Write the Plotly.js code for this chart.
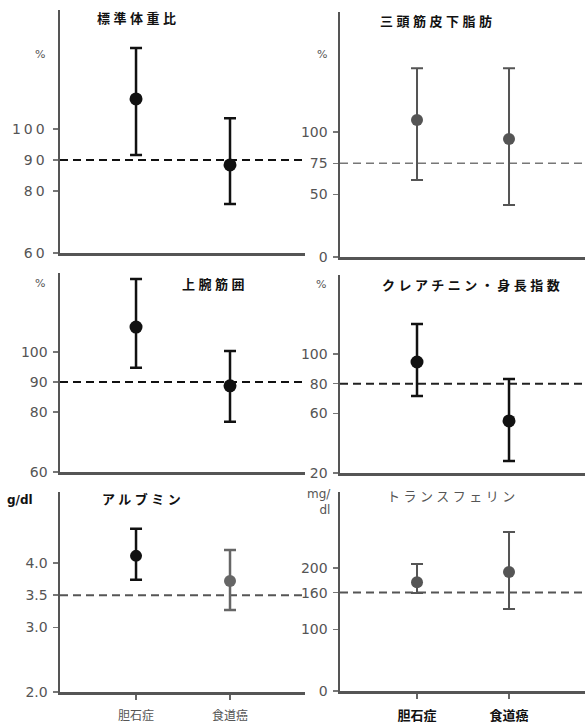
<!DOCTYPE html>
<html><head><meta charset="utf-8">
<script src="https://cdn.plot.ly/plotly-3.0.1.min.js"></script>
<style>
body{margin:0;background:#fff}
#chart{width:585px;height:723px}
.annotation-text[style*="CJK JP"]{letter-spacing:3.5px}
.ytick text{letter-spacing:3px}
</style>
</head><body><div id="chart"></div>
<script>
// ---- data ----
const groups = ['胆石症', '食道癌'];
const panelTitles = ['標準体重比', '三頭筋皮下脂肪', '上腕筋囲', 'クレアチニン・身長指数', 'アルブミン', 'トランスフェリン'];
const panelUnits = ['%', '%', '%', '%', 'g/dl', 'mg/<br>dl'];

const ibwMean  = [109.7, 88.4];
const ibwUpper = [126.1, 103.5];
const ibwLower = [91.6, 75.8];

const tsfMean  = [109.6, 94.4];
const tsfUpper = [151, 151];
const tsfLower = [61.6, 41.6];

const amcMean  = [108.3, 88.7];
const amcUpper = [124.3, 100.3];
const amcLower = [94.7, 76.7];

const chiMean  = [94.6, 55.0];
const chiUpper = [120.2, 83.2];
const chiLower = [71.8, 28.1];

const albMean  = [4.11, 3.72];
const albUpper = [4.53, 4.20];
const albLower = [3.74, 3.27];

const tfMean  = [177, 193.5];
const tfUpper = [206.5, 258.5];
const tfLower = [159.3, 133.3];

const refValues = [90, 75, 90, 80, 3.5, 160];

const tickVals1 = [60, 80, 90, 100];
const tickVals2 = [0, 50, 75, 100];
const tickVals3 = [60, 80, 90, 100];
const tickVals4 = [20, 60, 80, 100];
const tickVals5 = [2.0, 3.0, 3.5, 4.0];
const tickText5 = ['2.0', '3.0', '3.5', '4.0'];
const tickVals6 = [0, 100, 160, 200];

// ---- styling / layout ----
const W = 585, H = 723;
const px = v => v / W, py = v => 1 - v / H;

const series = [
  [ibwMean, ibwUpper, ibwLower],
  [tsfMean, tsfUpper, tsfLower],
  [amcMean, amcUpper, amcLower],
  [chiMean, chiUpper, chiLower],
  [albMean, albUpper, albLower],
  [tfMean, tfUpper, tfLower]
];
const tickVals = [tickVals1, tickVals2, tickVals3, tickVals4, tickVals5, tickVals6];
const tickTexts = [null, null, null, null, tickText5, null];

const style = [
  {col: ['#111', '#111'], ebw: 2.5, ms: 13, ref: '#111', yr: [60, 138.4], yd: [253, 10], left: true,  title: [95, 17], unit: [40, 55]},
  {col: ['#555', '#555'], ebw: 2,   ms: 12, ref: '#777', yr: [0, 196],    yd: [257, 12], left: false, title: [378, 20], unit: [322, 55]},
  {col: ['#111', '#111'], ebw: 2.5, ms: 13, ref: '#111', yr: [60, 126.3], yd: [472, 273], left: true, title: [180, 284], unit: [40, 284]},
  {col: ['#111', '#111'], ebw: 2.5, ms: 13, ref: '#222', yr: [20, 153.1], yd: [473, 275], left: false, title: [380, 285], unit: [321, 285]},
  {col: ['#111', '#666'], ebw: 2.5, ms: 12, ref: '#555', yr: [2, 5.10],   yd: [692, 492], left: true, title: [100, 498], unit: [5, 500]},
  {col: ['#555', '#555'], ebw: 2,   ms: 12, ref: '#555', yr: [0, 323.6],  yd: [691, 492], left: false, title: [385, 495], unit: [333, 502]}
];

const traces = [];
const shapes = [];
const annotations = [];
const layout = {
  width: W, height: H,
  margin: {l: 0, r: 0, t: 0, b: 0},
  paper_bgcolor: '#fff', plot_bgcolor: '#fff',
  showlegend: false,
  font: {family: 'DejaVu Sans, sans-serif', color: '#555'}
};

series.forEach((s, i) => {
  const st = style[i];
  const n = i + 1;
  const xa = n === 1 ? 'x' : 'x' + n;
  const ya = n === 1 ? 'y' : 'y' + n;
  groups.forEach((g, j) => {
    traces.push({
      type: 'scatter', mode: 'markers',
      x: [g], y: [s[0][j]],
      xaxis: xa, yaxis: ya,
      marker: {size: st.ms, color: st.col[j]},
      error_y: {
        type: 'data', symmetric: false,
        array: [s[1][j] - s[0][j]],
        arrayminus: [s[0][j] - s[2][j]],
        color: st.col[j], thickness: st.ebw, width: 6
      },
      hoverinfo: 'skip'
    });
  });
  const bottomRow = i >= 4;
  const xdom = st.left ? [px(60), px(305)] : [px(340), 1];
  const xrange = st.left ? [-0.809, 1.798] : [-0.837, 1.826];
  layout[n === 1 ? 'xaxis' : 'xaxis' + n] = {
    domain: xdom, anchor: ya, type: 'category', categoryarray: groups,
    range: xrange, showline: true, linecolor: '#555', linewidth: 2.5,
    showgrid: false, zeroline: false,
    ticks: bottomRow ? 'outside' : '', ticklen: 5, tickwidth: 1.5, tickcolor: '#666',
    showticklabels: bottomRow,
    tickfont: i === 5
      ? {family: 'Noto Sans CJK JP', size: 13, color: '#111', weight: 700}
      : {family: 'Noto Sans CJK JP', size: 12, color: '#555'},
    ticklabelstandoff: 6,
    fixedrange: true
  };
  const yax = {
    domain: [py(st.yd[0]), py(st.yd[1])], anchor: xa,
    range: st.yr, showline: true, linecolor: '#555', linewidth: 2.5,
    showgrid: false, zeroline: false,
    tickmode: 'array', tickvals: tickVals[i],
    ticks: 'outside', ticklen: 5, tickwidth: 1.5, tickcolor: '#777',
    tickfont: {family: 'DejaVu Sans', size: 14, color: '#555'},
    ticklabelstandoff: 2,
    fixedrange: true
  };
  if (tickTexts[i]) yax.ticktext = tickTexts[i];
  layout[n === 1 ? 'yaxis' : 'yaxis' + n] = yax;

  shapes.push({
    type: 'line', xref: xa + ' domain', yref: ya,
    x0: 0, x1: 1, y0: refValues[i], y1: refValues[i],
    line: {color: st.ref, width: i === 1 ? 1.6 : 2, dash: '8px,5px'},
    layer: 'below'
  });

  annotations.push({
    xref: 'paper', yref: 'paper', x: px(st.title[0]), y: py(st.title[1]),
    xanchor: 'left', yanchor: 'middle', showarrow: false,
    text: panelTitles[i],
    font: {family: 'Noto Sans CJK JP', size: 13,
           color: i === 5 ? '#555' : '#111', weight: i === 5 ? 400 : 700}
  });
  const unitAnchor = i === 4 ? 'left' : (i === 5 ? 'right' : 'center');
  annotations.push({
    xref: 'paper', yref: 'paper', x: px(st.unit[0]), y: py(st.unit[1]),
    xanchor: unitAnchor, yanchor: 'middle', showarrow: false, align: 'right',
    text: panelUnits[i],
    font: {family: 'DejaVu Sans', size: i >= 4 ? 12 : 11,
           color: i === 4 ? '#111' : '#555', weight: i === 4 ? 700 : 400}
  });
});

layout.shapes = shapes;
layout.annotations = annotations;

Plotly.newPlot('chart', traces, layout, {staticPlot: true, displayModeBar: false});
</script>
</body></html>
